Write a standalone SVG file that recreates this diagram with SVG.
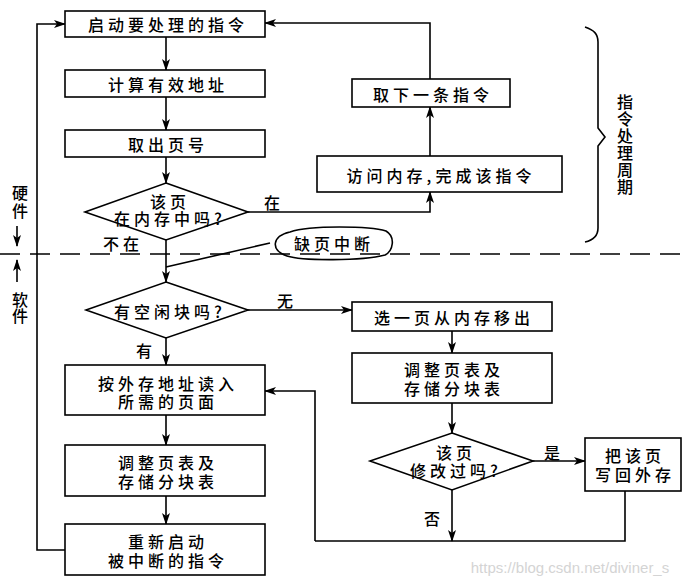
<svg xmlns="http://www.w3.org/2000/svg" width="684" height="585" viewBox="0 0 684 585">
<style>
.b{fill:#fff;stroke:#000;stroke-width:1.6}
.t{font-family:"Noto Sans CJK SC","Liberation Serif",serif;font-size:16px;font-weight:500;letter-spacing:4px;fill:#000;text-anchor:middle;dominant-baseline:central}
.v{font-family:"Noto Sans CJK SC","Liberation Serif",serif;font-size:16px;font-weight:500;fill:#000;text-anchor:middle;writing-mode:vertical-rl}
.l{fill:none;stroke:#000;stroke-width:1.6}
.a{fill:none;stroke:#000;stroke-width:1.6;marker-end:url(#ah)}
</style>
<defs>
<marker id="ah" viewBox="0 0 12 8" refX="11" refY="4" markerWidth="12" markerHeight="8" markerUnits="userSpaceOnUse" orient="auto">
<path d="M0,0 L12,4 L0,8 L3,4 Z" fill="#000"/>
</marker>
</defs>
<rect width="684" height="585" fill="#fff"/>
<g id="connectors">
<path class="a" d="M166,37 V70"/>
<path class="a" d="M166,97 V130"/>
<path class="a" d="M166,157 V183"/>
<path class="a" d="M248,212 H430 V192"/>
<path class="a" d="M430,156 V107"/>
<path class="a" d="M430,79 V23 H265"/>
<path class="a" d="M166,240 V282"/>
<path class="l" d="M270,243 L166,267"/>
<path class="a" d="M248,310 H352"/>
<path class="a" d="M166,338 V365"/>
<path class="a" d="M166,415 V445"/>
<path class="a" d="M166,496 V524"/>
<path class="a" d="M65,550 H37 V24 H65"/>
<path class="a" d="M452,331 V353"/>
<path class="a" d="M452,403 V433"/>
<path class="a" d="M533,461 H585"/>
<path class="a" d="M452,490 V541"/>
<path class="l" d="M625,491 V541 H315"/>
<path class="a" d="M315,541 V391 H265"/>
<path class="l" d="M0,254 H684" stroke-dasharray="20,10"/>
<path class="a" d="M17,226 V246"/>
<path class="a" d="M17,282 V260"/>
<path class="l" d="M585,27 C594,30 598,34 598,42 V128 L605,137 L598,146 V228 C598,236 594,240 585,242"/>
</g>
<g id="start"><rect class="b" x="65" y="11" width="200" height="26"/><text class="t" x="168" y="24">启动要处理的指令</text></g>
<g id="calc"><rect class="b" x="65" y="70" width="200" height="27"/><text class="t" x="168" y="84">计算有效地址</text></g>
<g id="page"><rect class="b" x="65" y="130" width="200" height="27"/><text class="t" x="168" y="144">取出页号</text></g>
<g id="inmem"><polygon class="b" points="166,183 248,212 166,240 85,212"/><text class="t" x="170" y="201">该页<tspan x="170" y="218">在内存中吗?</tspan></text></g>
<g id="access"><rect class="b" x="317" y="156" width="245" height="36"/><text class="t" x="441" y="175">访问内存,完成该指令</text></g>
<g id="next"><rect class="b" x="352" y="79" width="158" height="28"/><text class="t" x="433" y="94">取下一条指令</text></g>
<g id="fault"><path class="l" d="M290,232 C310,225 370,226 386,231 C396,237 393,251 385,255 C362,261 302,261 287,256 C270,250 272,236 290,232 Z"/><text class="t" x="334" y="243">缺页中断</text></g>
<g id="free"><polygon class="b" points="166,282 248,310 166,338 86,310"/><text class="t" x="170" y="311">有空闲块吗?</text></g>
<g id="evict"><rect class="b" x="352" y="302" width="200" height="29"/><text class="t" x="454" y="317">选一页从内存移出</text></g>
<g id="adjust2"><rect class="b" x="352" y="353" width="200" height="50"/><text class="t" x="454" y="369">调整页表及<tspan x="454" y="388">存储分块表</tspan></text></g>
<g id="modified"><polygon class="b" points="452,433 533,461 452,490 370,461"/><text class="t" x="456" y="452">该页<tspan x="456" y="470">修改过吗?</tspan></text></g>
<g id="writeback"><rect class="b" x="585" y="438" width="96" height="53"/><text class="t" x="635" y="455">把该页<tspan x="635" y="474">写回外存</tspan></text></g>
<g id="read"><rect class="b" x="65" y="365" width="200" height="50"/><text class="t" x="168" y="383">按外存地址读入<tspan x="168" y="401">所需的页面</tspan></text></g>
<g id="adjust1"><rect class="b" x="65" y="445" width="200" height="51"/><text class="t" x="168" y="462">调整页表及<tspan x="168" y="481">存储分块表</tspan></text></g>
<g id="restart"><rect class="b" x="65" y="524" width="200" height="51"/><text class="t" x="168" y="541">重新启动<tspan x="168" y="560">被中断的指令</tspan></text></g>
<g id="labels">
<text class="t" x="274" y="202">在</text>
<text class="t" x="123" y="243">不在</text>
<text class="t" x="287" y="300">无</text>
<text class="t" x="146" y="350">有</text>
<text class="t" x="554" y="452">是</text>
<text class="t" x="434" y="518">否</text>
<text class="v" x="20" y="203" style="letter-spacing:2px">硬件</text>
<text class="v" x="20" y="308">软件</text>
<text class="v" x="625" y="145" style="letter-spacing:1px">指令处理周期</text>
<text x="570" y="573" style="font-family:'Liberation Sans',sans-serif;font-size:15px;fill:#d4d4d4;text-anchor:middle">https://blog.csdn.net/diviner_s</text>
</g>
</svg>
